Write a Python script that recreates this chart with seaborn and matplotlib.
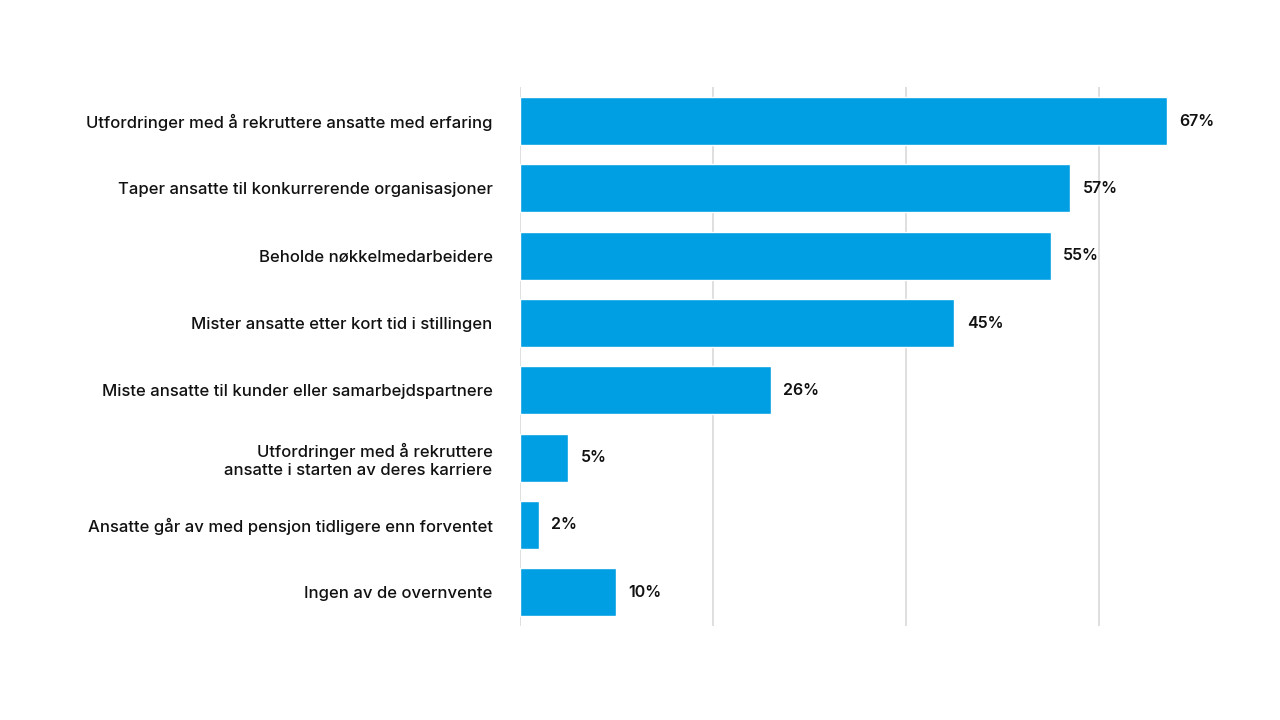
import pandas as pd
import matplotlib.pyplot as plt
import seaborn as sns

# data
categories = [
    "Utfordringer med å rekruttere ansatte med erfaring",
    "Taper ansatte til konkurrerende organisasjoner",
    "Beholde nøkkelmedarbeidere",
    "Mister ansatte etter kort tid i stillingen",
    "Miste ansatte til kunder eller samarbejdspartnere",
    "Utfordringer med å rekruttere\nansatte i starten av deres karriere",
    "Ansatte går av med pensjon tidligere enn forventet",
    "Ingen av de overnvente",
]
values = [67, 57, 55, 45, 26, 5, 2, 10]

df = pd.DataFrame({"kategori": categories, "andel": values})

sns.set_style("white")
plt.rcParams["font.family"] = ["Inter", "DejaVu Sans"]

fig = plt.figure(figsize=(12.8, 7.2), dpi=100)
ax = fig.add_axes([0.406, 0.1306, 0.528, 0.748])

sns.barplot(data=df, x="andel", y="kategori", color="#009FE3",
            saturation=1, width=0.713, ax=ax)

ax.set_xlim(0, 70)
ax.set_xticks([0, 20, 40, 60])
ax.xaxis.grid(True, color="#d9d9d9", linewidth=1.2)
ax.set_axisbelow(True)
ax.tick_params(axis="x", labelbottom=False, length=0)
ax.tick_params(axis="y", length=0, pad=19.5, labelsize=12)
for lab in ax.get_yticklabels():
    lab.set_fontweight("medium")
    lab.set_color("#111111")
    lab.set_multialignment("right")
ax.set_xlabel("")
ax.set_ylabel("")
for s in ax.spines.values():
    s.set_visible(False)

ax.bar_label(ax.containers[0], labels=[f"{v}%" for v in values],
             padding=9, fontsize=11.5, fontweight="semibold", color="#111111")

plt.savefig("out.png", dpi=100)
